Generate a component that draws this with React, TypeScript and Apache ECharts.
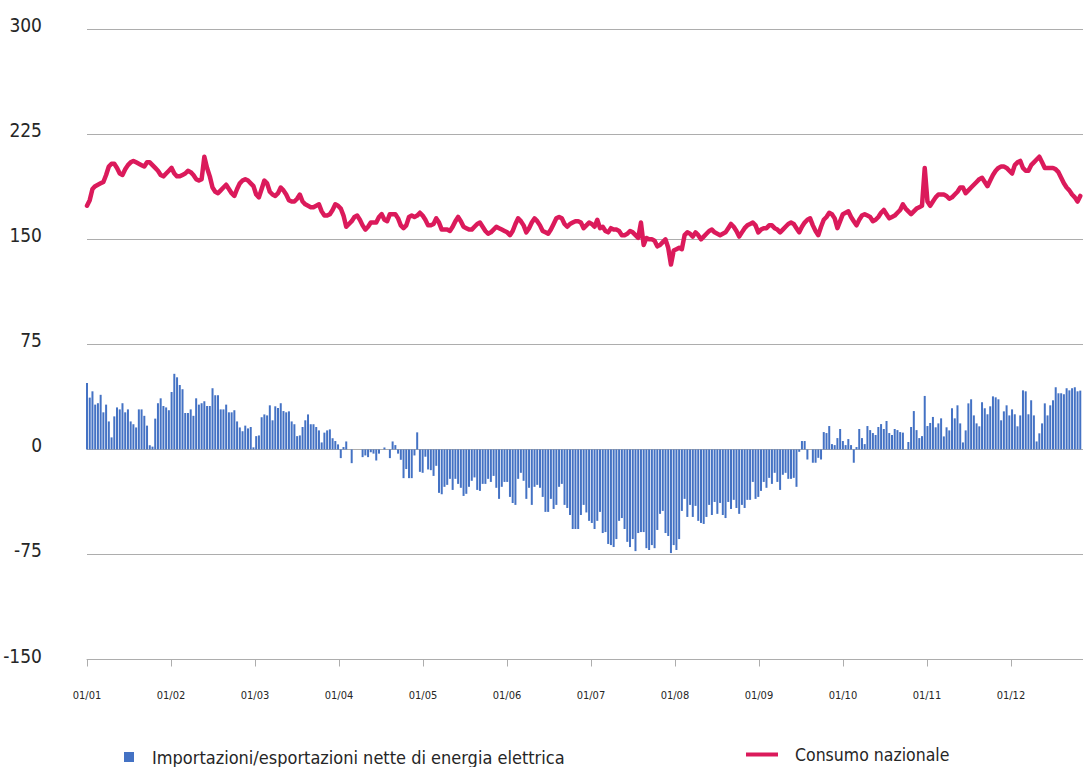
import React, { useEffect, useRef } from "react";
import * as echarts from "echarts";

const monthLabels = ["01/01", "01/02", "01/03", "01/04", "01/05", "01/06", "01/07", "01/08", "01/09", "01/10", "01/11", "01/12"];
const yTicks = [-150, -75, 0, 75, 150, 225, 300];

const seriesNames = ["Importazioni/esportazioni nette di energia elettrica", "Consumo nazionale"];

// Net imports / exports per day (GWh), Jan 1 .. Dec 31
const netImports = [
  47.5, 37, 41.5, 32, 33, 39, 26.5, 32, 20, 8.6,
  23.6, 30, 28.6, 33, 26.5, 28.6, 20, 18, 15.7, 28.6,
  28.6, 24, 17, 3, 2, 22, 33, 36.5, 31, 30,
  28, 41, 54, 51.5, 46, 43, 26, 26, 28.6, 24,
  36.5, 32, 33, 34.4, 31, 31, 43.7, 38.7, 38.7, 28.6,
  28.6, 32, 26.5, 26.5, 28, 20, 15.7, 13, 17, 15,
  16, 1.5, 9.5, 10, 23, 25, 24.3, 31.5, 20.8, 30.8,
  29.6, 33, 27.4, 26.5, 27.2, 20, 18, 9.5, 10, 16,
  20.8, 25, 18, 18, 16, 13.6, 5, 12, 13.6, 14.3,
  8, 6, 3.6, -6.2, 1.7, 5.7, 0, -9.8, 0, 0,
  0, -5.5, -4.3, -5.5, -2, -3, -7.9, -3, 0, 1.4,
  0, -6.2, 5.7, 3.1, -3, -7.4, -20.5, -14, -20.5, -20.5,
  -4.3, 12.2, -16, -16.7, -5.2, -14.3, -14.8, -18.9, -11.7, -31,
  -32, -26.7, -25.3, -21, -28.9, -21, -24.6, -27.4, -33.2, -31.7,
  -26.7, -22.4, -20, -28.9, -29.6, -24.6, -24.6, -21, -23.2, -18.9,
  -27.4, -35.3, -26.7, -23.2, -23.2, -33.9, -38.2, -39.6, -21, -16.7,
  -22.4, -35.3, -27.4, -39.6, -26.7, -25.3, -27.4, -33.9, -44.6, -44.6,
  -35.3, -42.5, -39.6, -26.7, -24.6, -39.6, -41.8, -46.8, -56.8, -56.8,
  -56.8, -46.8, -39.6, -45, -51, -52.5, -56.8, -51, -44.6, -59.7,
  -59, -67.5, -68.3, -69.7, -64, -51, -49, -56.8, -66, -69.7,
  -64, -72.6, -59.7, -59, -59, -70.5, -71.8, -68.3, -70.5, -57.5,
  -46, -43.9, -59.7, -61.8, -74, -68.3, -71.8, -64, -43.9, -35.3,
  -48.2, -39.6, -48.2, -40.3, -51, -52.5, -53.2, -48.2, -39.6, -46.8,
  -37.5, -46, -38.2, -46.8, -49, -37.5, -42.5, -36, -41.8, -46,
  -39.6, -41.8, -36, -36, -23.2, -35.3, -33.9, -29.6, -23.2, -27.4,
  -20.3, -24.6, -16.7, -23.2, -28.9, -18.1, -16.7, -21, -21, -20.3,
  -26.7, -1.7, 6, 6, -7.2, 0, -9.5, -9.5, -6, -7.2,
  12.4, 11.7, 16.7, 3.8, 3.1, 8.1, 14.6, 6, 3.1, 7.4,
  3.1, -9.5, 1.7, 14.6, 8.1, 3.8, 16.7, 13.8, 11.7, 10.3,
  16, 18.1, 14.6, 20.3, 11.7, 10.3, 14.6, 13.8, 12.4, 12,
  0, 5.3, 16, 27.4, 13.8, 8.1, 9.5, 38.2, 16.7, 18.9,
  23.2, 15.8, 18.6, 22.2, 9.3, 15.8, 13.6, 29.4, 22.2, 31.5,
  18.6, 5, 13.6, 32.9, 35.8, 24.3, 18.6, 16.5, 33.7, 29.4,
  25.1, 30.8, 37.9, 37.2, 35.8, 20.8, 27.2, 31.5, 24.3, 28.6,
  25.1, 16.5, 24.3, 42.2, 41.5, 25.1, 35.1, 24.3, 5.7, 11.5,
  18.6, 32.9, 24.3, 31.5, 35.1, 44.4, 40.1, 40.1, 39.4, 43.7,
  42.2, 43.7, 44.4, 41.5, 42,
];

// National consumption per day (GWh), Jan 1 .. Dec 31
const consumption = [
  174, 178, 186, 188, 189, 190, 191, 196, 202, 204,
  204, 201, 197, 196, 200, 203, 205, 206, 205, 204,
  203, 202, 205, 205, 203, 201, 199, 196, 195, 197,
  199, 201, 197, 195, 195, 196, 197, 199, 198, 196,
  193, 192, 193, 209, 201, 195, 187, 184, 183, 185,
  187, 189, 186, 183, 181, 186, 190, 192, 193, 192,
  190, 188, 182, 180, 186, 192, 190, 184, 182, 181,
  183, 187, 185, 182, 178, 177, 177, 179, 182, 177,
  175, 174, 173, 173, 174, 175, 170, 167, 167, 168,
  171, 175, 174, 172, 167, 159, 161, 163, 166, 167,
  164, 160, 157, 159, 162, 162, 162, 166, 168, 164,
  163, 168, 168, 168, 165, 160, 158, 160, 166, 167,
  166, 167, 169, 167, 164, 160, 160, 161, 165, 162,
  157, 157, 157, 156, 159, 163, 166, 163, 159, 158,
  157, 157, 159, 161, 162, 159, 156, 154, 155, 157,
  159, 158, 157, 156, 155, 153, 156, 161, 165, 163,
  160, 155, 158, 162, 165, 163, 160, 156, 155, 154,
  157, 161, 165, 166, 165, 161, 159, 161, 162, 163,
  163, 162, 158, 160, 162, 161, 159, 164, 158, 159,
  156, 155, 158, 157, 157, 156, 153, 153, 154, 156,
  155, 153, 151, 162, 146, 151, 150, 150, 149, 145,
  146, 148, 150, 144, 132, 142, 143, 144, 143, 153,
  155, 154, 152, 155, 153, 150, 152, 154, 156, 157,
  155, 154, 153, 154, 155, 158, 161, 159, 156, 152,
  155, 158, 160, 161, 162, 160, 155, 157, 158, 158,
  160, 160, 158, 157, 155, 157, 159, 161, 162, 161,
  158, 155, 159, 162, 164, 165, 160, 156, 153, 159,
  164, 166, 169, 168, 165, 158, 163, 168, 169, 170,
  166, 163, 160, 164, 167, 168, 167, 166, 163, 164,
  166, 169, 171, 168, 165, 166, 167, 169, 171, 175,
  172, 170, 168, 170, 172, 173, 174, 201, 177, 174,
  177, 180, 182, 182, 182, 181, 179, 180, 182, 184,
  187, 187, 183, 185, 187, 189, 191, 193, 194, 191,
  188, 192, 196, 199, 201, 202, 202, 201, 199, 197,
  203, 205, 206, 201, 199, 199, 203, 205, 207, 209,
  205, 201, 201, 201, 201, 200, 198, 194, 190, 187,
  185, 182, 180, 177, 181,
];

const DAYS_PER_LABEL = 30.78;
const FONT = "'DejaVu Sans Condensed', 'Liberation Sans Narrow', Roboto, sans-serif";
const GRID_COLOR = "#ADADAD";
const TEXT_COLOR = "#262626";
const BAR_COLOR = "#4472C4";
const LINE_COLOR = "#DB1A5B";

export default function App() {
  const ref = useRef<HTMLDivElement>(null);

  useEffect(() => {
    if (!ref.current) return;
    const chart = echarts.init(ref.current, undefined, { renderer: "svg" });
    const barData = netImports.map((v, i) => [i, v]);
    const lineData = consumption.map((v, i) => [i, v]);

    chart.setOption({
      animation: false,
      backgroundColor: "#ffffff",
      textStyle: { fontFamily: FONT, color: TEXT_COLOR },
      grid: {
        left: 87,
        right: 0,
        top: 29.3,
        bottom: 767 - 659.5,
        containLabel: false,
        outerBoundsMode: "none",
      },
      legend: [
        {
          data: [seriesNames[0]],
          left: 124,
          top: 748,
          padding: 0,
          icon: "rect",
          itemWidth: 10,
          itemHeight: 10,
          textStyle: { fontFamily: FONT, fontSize: 18, color: TEXT_COLOR, padding: [0, 0, 0, 13] },
        },
        {
          data: [seriesNames[1]],
          left: 746,
          top: 745.5,
          padding: 0,
          icon: "rect",
          itemWidth: 32,
          itemHeight: 4,
          textStyle: { fontFamily: FONT, fontSize: 17.5, color: TEXT_COLOR, padding: [0, 0, 0, 12] },
        },
      ],
      xAxis: {
        type: "value",
        min: 0,
        max: 365,
        interval: DAYS_PER_LABEL,
        axisLine: { show: true, onZero: false, lineStyle: { color: GRID_COLOR, width: 1 } },
        axisTick: { show: true, length: 7, lineStyle: { color: GRID_COLOR } },
        splitLine: { show: false },
        axisLabel: {
          margin: 30,
          fontSize: 11,
          fontFamily: FONT,
          color: TEXT_COLOR,
          showMaxLabel: false,
          formatter: (v: number) => {
            const k = Math.round(v / DAYS_PER_LABEL);
            return k < monthLabels.length ? monthLabels[k] : "";
          },
        },
      },
      yAxis: {
        type: "value",
        min: yTicks[0],
        max: yTicks[yTicks.length - 1],
        interval: 75,
        axisLine: { show: false },
        axisTick: { show: false },
        splitLine: { show: true, lineStyle: { color: GRID_COLOR, width: 1 } },
        axisLabel: {
          margin: 45,
          fontSize: 19,
          fontFamily: FONT,
          color: TEXT_COLOR,
          verticalAlign: "bottom",
          lineHeight: 8,
        },
      },
      series: [
        {
          name: seriesNames[0],
          type: "bar",
          data: barData,
          barWidth: 2,
          itemStyle: { color: BAR_COLOR },
          z: 2,
        },
        {
          name: seriesNames[1],
          type: "line",
          data: lineData,
          showSymbol: false,
          symbol: "none",
          lineStyle: { color: LINE_COLOR, width: 4.5, cap: "round", join: "round" },
          itemStyle: { color: LINE_COLOR },
          z: 3,
        },
      ],
    });

    return () => chart.dispose();
  }, []);

  return (
    <div
      ref={ref}
      style={{ position: "absolute", left: 0, top: 0, width: 1083, height: 767, background: "#fff" }}
    />
  );
}
